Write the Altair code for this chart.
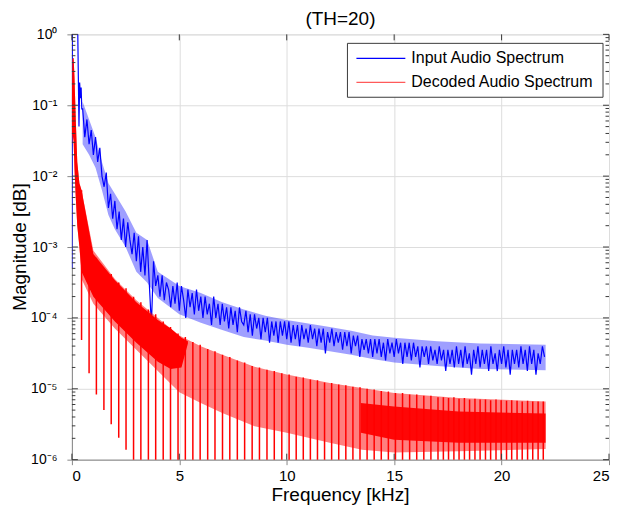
import altair as alt
import pandas as pd
import numpy as np

# ---------------- data (log10 of magnitude) ----------------
# Input audio spectrum (blue): first part at irregular frequencies
blue_low_khz = [0.0, 0.02, 0.1, 0.2, 0.27, 0.3, 0.33, 0.36, 0.4, 0.43, 0.46]
blue_low_log = [-3.3, 0.5, 0.6, 0.4, 0.1, -0.6, -1.3, -0.68, -0.9, -0.75, -1.05]
# then on a 0.1 kHz grid from 0.5 kHz to 22.0 kHz
blue_grid_start_khz = 0.5
blue_grid_step_khz = 0.1
blue_log = [
    -1.05, -1.45, -1.2, -1.55, -1.35,
    -1.7, -1.45, -1.8, -1.6, -2.0, -2.15, -1.95, -2.45, -2.25, -2.6,
    -2.35, -2.75, -2.5, -2.9, -2.6, -3.0, -2.65, -2.9, -3.1, -2.8,
    -3.2, -2.85, -3.35, -3.0, -3.4, -2.9, -3.5, -4.1, -3.2, -3.55,
    -3.4, -3.7, -3.4, -3.75, -3.5, -3.6, -3.85, -3.55, -3.8, -3.5,
    -3.9, -3.55, -3.75, -4.0, -3.6, -3.85, -3.65, -3.95, -3.6, -3.9,
    -3.7, -4.0, -3.7, -3.95, -3.8, -4.1, -3.7, -4.0, -3.8, -4.1,
    -3.8, -4.05, -3.85, -4.15, -3.85, -4.1, -3.9, -4.2, -3.85, -4.05,
    -4.1, -3.9, -4.2, -3.95, -4.25, -3.95, -4.15, -4.0, -4.3, -4.0,
    -4.2, -4.0, -4.35, -4.05, -4.25, -4.05, -4.35, -4.05, -4.25, -4.05,
    -4.3, -4.05, -4.35, -4.1, -4.3, -4.1, -4.4, -4.1, -4.3, -4.15,
    -4.35, -4.1, -4.3, -4.15, -4.4, -4.15, -4.35, -4.15, -4.5, -4.2,
    -4.35, -4.15, -4.4, -4.2, -4.35, -4.2, -4.45, -4.2, -4.4, -4.2,
    -4.5, -4.25, -4.4, -4.25, -4.55, -4.3, -4.45, -4.3, -4.5, -4.3,
    -4.55, -4.3, -4.5, -4.3, -4.55, -4.35, -4.6, -4.3, -4.5, -4.35,
    -4.55, -4.3, -4.5, -4.35, -4.65, -4.35, -4.55, -4.35, -4.6, -4.35,
    -4.55, -4.4, -4.7, -4.4, -4.55, -4.4, -4.65, -4.4, -4.6, -4.45,
    -4.65, -4.4, -4.6, -4.45, -4.75, -4.45, -4.65, -4.45, -4.7, -4.4,
    -4.65, -4.45, -4.7, -4.4, -4.65, -4.5, -4.8, -4.45, -4.65, -4.4,
    -4.7, -4.45, -4.65, -4.45, -4.75, -4.4, -4.65, -4.5, -4.75, -4.45,
    -4.65, -4.4, -4.7, -4.45, -4.8, -4.45, -4.65, -4.45, -4.7, -4.4,
    -4.65, -4.45, -4.75, -4.4, -4.65, -4.45, -4.8, -4.5, -4.65, -4.4,
    -4.55,
]
# spread (envelope) of the blue trace
blue_env_khz = [0.5, 0.8, 1.1, 1.4, 1.7, 2.0, 2.5, 3.0, 3.5, 4.0, 5.0, 6.0, 7.0, 8.0,
                9.0, 10.0, 11.0, 12.0, 13.0, 14.0, 15.0, 17.0, 19.0, 22.05]
blue_env_top = [-0.95, -1.2, -1.45, -1.8, -2.1, -2.25, -2.5, -2.8, -2.9, -3.35, -3.55, -3.65,
                -3.78, -3.88, -3.97, -4.03, -4.08, -4.13, -4.18, -4.25, -4.28, -4.33, -4.36, -4.38]
blue_env_bot = [-1.55, -1.7, -1.88, -2.2, -2.55, -2.75, -3.0, -3.35, -3.5, -3.72, -3.95, -4.07,
                -4.17, -4.27, -4.32, -4.38, -4.42, -4.47, -4.52, -4.58, -4.63, -4.68, -4.72, -4.74]

# Decoded audio spectrum (red): envelope of the dense band
red_band_khz = [0.0, 0.03, 0.08, 0.12, 0.18, 0.25, 0.35, 0.45, 1.0, 2.0, 3.0, 4.0, 5.0,
                6.0, 7.0, 8.5, 10.0, 12.0, 13.5, 15.0, 18.0, 22.05]
red_band_top = [-0.9, -0.35, -0.33, -0.6, -1.2, -1.8, -2.1, -2.2, -3.05, -3.45, -3.75, -4.0, -4.25,
                -4.4, -4.52, -4.69, -4.8, -4.92, -4.99, -5.06, -5.13, -5.18]
red_band_bot = [-1.6, -1.4, -1.5, -1.9, -2.3, -2.7, -3.0, -3.45, -3.8, -4.15, -4.45, -4.75, -5.05,
                -5.2, -5.34, -5.53, -5.62, -5.76, -5.86, -5.9, -5.88, -5.85]
# dense (solid) part at low frequency
red_core_a_khz = [0.0, 0.03, 0.08, 0.12, 0.18, 0.25, 0.35, 0.45, 1.0, 2.0, 3.0, 4.0, 4.6, 5.1, 5.4]
red_core_a_hi = [-0.9, -0.35, -0.33, -0.6, -1.2, -1.8, -2.1, -2.2, -3.1, -3.47, -3.78, -4.03, -4.15,
                 -4.28, -4.33]
red_core_a_lo = [-1.6, -1.4, -1.5, -1.9, -2.3, -2.7, -3.0, -3.35, -3.7, -4.05, -4.35, -4.62, -4.72,
                 -4.7, -4.36]
# dense (solid) part at high frequency
red_core_b_khz = [13.45, 15.0, 18.0, 22.05]
red_core_b_hi = [-5.2, -5.25, -5.32, -5.35]
red_core_b_lo = [-5.62, -5.72, -5.76, -5.76]
# periodic notches of the decoded spectrum
red_dip_khz = [
    0.45, 0.80, 1.14, 1.49, 1.83, 2.18, 2.52, 2.87, 3.21, 3.56,
    3.90, 4.25, 4.59, 4.94, 5.28, 5.63, 5.97, 6.32, 6.66, 7.01,
    7.35, 7.70, 8.04, 8.39, 8.73, 9.08, 9.42, 9.77, 10.11, 10.44,
    10.77, 11.10, 11.43, 11.76, 12.09, 12.42, 12.75, 13.08, 13.41, 13.74,
    14.07, 14.40, 14.73, 15.06, 15.39, 15.72, 16.05, 16.38, 16.71, 17.04,
    17.29, 17.53, 17.78, 18.02, 18.27, 18.51, 18.76, 19.00, 19.25, 19.49,
    19.74, 19.98, 20.23, 20.47, 20.72, 20.96, 21.21, 21.45, 21.70, 21.94,
]
red_dip_top = [
    -2.2, -2.9, -3.15, -3.3, -3.38, -3.5, -3.58, -3.7, -3.78, -3.88,
    -3.95, -4.05, -4.13, -4.22, -4.27, -4.34, -4.38, -4.44, -4.47, -4.52,
    -4.55, -4.6, -4.63, -4.68, -4.7, -4.73, -4.75, -4.78, -4.8, -4.83,
    -4.84, -4.87, -4.88, -4.91, -4.92, -4.94, -4.95, -4.97, -4.98, -5.0,
    -5.01, -5.03, -5.04, -5.06, -5.06, -5.08, -5.08, -5.1, -5.1, -5.12,
    -5.12, -5.13, -5.12, -5.14, -5.13, -5.15, -5.14, -5.15, -5.15, -5.16,
    -5.15, -5.16, -5.17, -5.16, -5.17, -5.18, -5.17, -5.18, -5.18, -5.18,
]
red_dip_low_first = [-4.31, -4.78, -5.08, -5.3, -5.5, -5.69, -5.86]
red_dip_below_axis = -6.6

# axes and texts
x_tick_values = [0, 5, 10, 15, 20, 25]
y_decades = [-6, -5, -4, -3, -2, -1, 0]
series_names = ["Input Audio Spectrum", "Decoded Audio Spectrum"]
title_text = "(TH=20)"
x_title = "Frequency [kHz]"
y_title = "Magnitude [dB]"

BLUE = "#0000ff"
RED = "#ff0000"
FRAME = "#3a3a3a"
FONT = "Liberation Sans"

# ---------------- tables ----------------
blue_x = list(blue_low_khz) + [round(blue_grid_start_khz + blue_grid_step_khz * i, 2) for i in range(len(blue_log))]
blue_y = list(blue_low_log) + list(blue_log)
blue_df = pd.DataFrame({"khz": blue_x, "mag": [10.0 ** v for v in blue_y], "order": range(len(blue_x))})
blue_env_df = pd.DataFrame({"khz": blue_env_khz,
                            "top": [10.0 ** v for v in blue_env_top],
                            "bot": [10.0 ** v for v in blue_env_bot]})

band_df = pd.DataFrame({"khz": red_band_khz,
                        "top": [10.0 ** v for v in red_band_top],
                        "bot": [10.0 ** v for v in red_band_bot]})
core_a_df = pd.DataFrame({"khz": red_core_a_khz,
                          "top": [10.0 ** v for v in red_core_a_hi],
                          "bot": [10.0 ** v for v in red_core_a_lo]})
core_b_df = pd.DataFrame({"khz": red_core_b_khz,
                          "top": [10.0 ** v for v in red_core_b_hi],
                          "bot": [10.0 ** v for v in red_core_b_lo]})
dip_low = red_dip_low_first + [red_dip_below_axis] * (len(red_dip_khz) - len(red_dip_low_first))
dip_df = pd.DataFrame({"khz": red_dip_khz,
                       "top": [10.0 ** v for v in red_dip_top],
                       "low": [10.0 ** v for v in dip_low]})

y_major_df = pd.DataFrame({"v": [10.0 ** d for d in y_decades]})
y_minor_df = pd.DataFrame({"v": [m * 10.0 ** d for d in y_decades[:-1] for m in range(2, 10)]})
x_tick_df = pd.DataFrame({"v": x_tick_values})

W, H = 538, 426
xscale = alt.Scale(domain=[0, 25], nice=False, zero=False)
yscale = alt.Scale(type="log", domain=[1e-6, 1], nice=False)

label_expr = ("datum.value >= 0.5 ? '10⁰' : datum.value >= 0.05 ? '10⁻¹' : "
              "datum.value >= 0.005 ? '10⁻²' : datum.value >= 0.0005 ? '10⁻³' : "
              "datum.value >= 0.00005 ? '10⁻⁴' : datum.value >= 0.000005 ? '10⁻⁵' : '10⁻⁶'")

# ---------------- marks ----------------
blue_band = alt.Chart(blue_env_df).mark_area(color="#2a2aff", opacity=0.45, clip=True).encode(
    x=alt.X("khz:Q", scale=xscale), y=alt.Y("top:Q", scale=yscale), y2="bot:Q")

blue_line = alt.Chart(blue_df).mark_line(color=BLUE, strokeWidth=1.2, clip=True).encode(
    x=alt.X("khz:Q", scale=xscale,
            axis=alt.Axis(title=None, values=x_tick_values, format="d",
                          labelFontSize=15, labelPadding=4)),
    y=alt.Y("mag:Q", scale=yscale,
            axis=alt.Axis(title=None, values=[10.0 ** d for d in y_decades],
                          labelExpr=label_expr, labelFontSize=14, labelPadding=10)),
    order="order:Q",
)

red_band = alt.Chart(band_df).mark_area(color=RED, opacity=0.5, clip=True).encode(
    x=alt.X("khz:Q", scale=xscale), y=alt.Y("top:Q", scale=yscale), y2="bot:Q")
red_core_a = alt.Chart(core_a_df).mark_area(color=RED, opacity=1, clip=True).encode(
    x=alt.X("khz:Q", scale=xscale), y=alt.Y("top:Q", scale=yscale), y2="bot:Q")
red_core_b = alt.Chart(core_b_df).mark_area(color=RED, opacity=0.95, clip=True).encode(
    x=alt.X("khz:Q", scale=xscale), y=alt.Y("top:Q", scale=yscale), y2="bot:Q")
red_dips = alt.Chart(dip_df).mark_rule(color=RED, strokeWidth=1.5, clip=True).encode(
    x=alt.X("khz:Q", scale=xscale), y=alt.Y("low:Q", scale=yscale), y2="top:Q")


# MATLAB-like inward ticks on all four sides
def yticks(df, length, right=False):
    x0 = W if right else 0
    x1 = W - length if right else length
    return alt.Chart(df).mark_rule(color=FRAME, strokeWidth=1).encode(
        y=alt.Y("v:Q", scale=yscale), x=alt.value(x0), x2=alt.value(x1))


def xticks(length, top=False):
    y0 = 0 if top else H
    y1 = length if top else H - length
    return alt.Chart(x_tick_df).mark_rule(color=FRAME, strokeWidth=1).encode(
        x=alt.X("v:Q", scale=xscale), y=alt.value(y0), y2=alt.value(y1))


ticks = [yticks(y_major_df, 6), yticks(y_minor_df, 3.5),
         yticks(y_major_df, 6, True), yticks(y_minor_df, 3.5, True),
         xticks(6), xticks(6, True)]


# titles as text
def text_layer(txt, x, y, size, angle=0, baseline="alphabetic"):
    return alt.Chart(pd.DataFrame({"t": [txt]})).mark_text(
        align="center", baseline=baseline, fontSize=size, font=FONT, color="black",
        angle=angle).encode(text="t:N", x=alt.value(x), y=alt.value(y))


title_l = text_layer(title_text, 269, -9, 19)
xtitle_l = text_layer(x_title, 269, 467, 19)
ytitle_l = text_layer(y_title, -52, 213, 19, angle=270, baseline="middle")

# legend box
leg_one = pd.DataFrame({"k": [0]})
leg_box = alt.Chart(leg_one).mark_rect(fill="white", stroke=FRAME, strokeWidth=1).encode(
    x=alt.value(276), x2=alt.value(532), y=alt.value(9), y2=alt.value(63))
leg_l1 = alt.Chart(leg_one).mark_rule(color=BLUE, strokeWidth=1.2).encode(
    x=alt.value(285), x2=alt.value(334), y=alt.value(24))
leg_l2 = alt.Chart(leg_one).mark_rule(color="#ff5a5a", strokeWidth=1.2).encode(
    x=alt.value(285), x2=alt.value(334), y=alt.value(48))
leg_t1 = alt.Chart(pd.DataFrame({"t": [series_names[0]]})).mark_text(
    align="left", baseline="middle", fontSize=16, font=FONT, color="black").encode(
    text="t:N", x=alt.value(340), y=alt.value(24))
leg_t2 = alt.Chart(pd.DataFrame({"t": [series_names[1]]})).mark_text(
    align="left", baseline="middle", fontSize=16, font=FONT, color="black").encode(
    text="t:N", x=alt.value(340), y=alt.value(48))

chart = alt.layer(
    blue_band, blue_line, red_band, red_core_a, red_core_b, red_dips, *ticks,
    title_l, xtitle_l, ytitle_l,
    leg_box, leg_l1, leg_l2, leg_t1, leg_t2,
).properties(
    width=W, height=H,
    padding={"left": 64, "top": 26, "right": 8, "bottom": 48},
    autosize=alt.AutoSizeParams(type="none"),
).configure_view(
    stroke=FRAME, strokeWidth=1
).configure_axis(
    grid=False, domain=False, ticks=False, labelFont=FONT, titleFont=FONT,
    labelColor="black", titleColor="black",
).configure(background="white")

chart.save("out.html", embed_options={"renderer": "svg", "actions": False})
